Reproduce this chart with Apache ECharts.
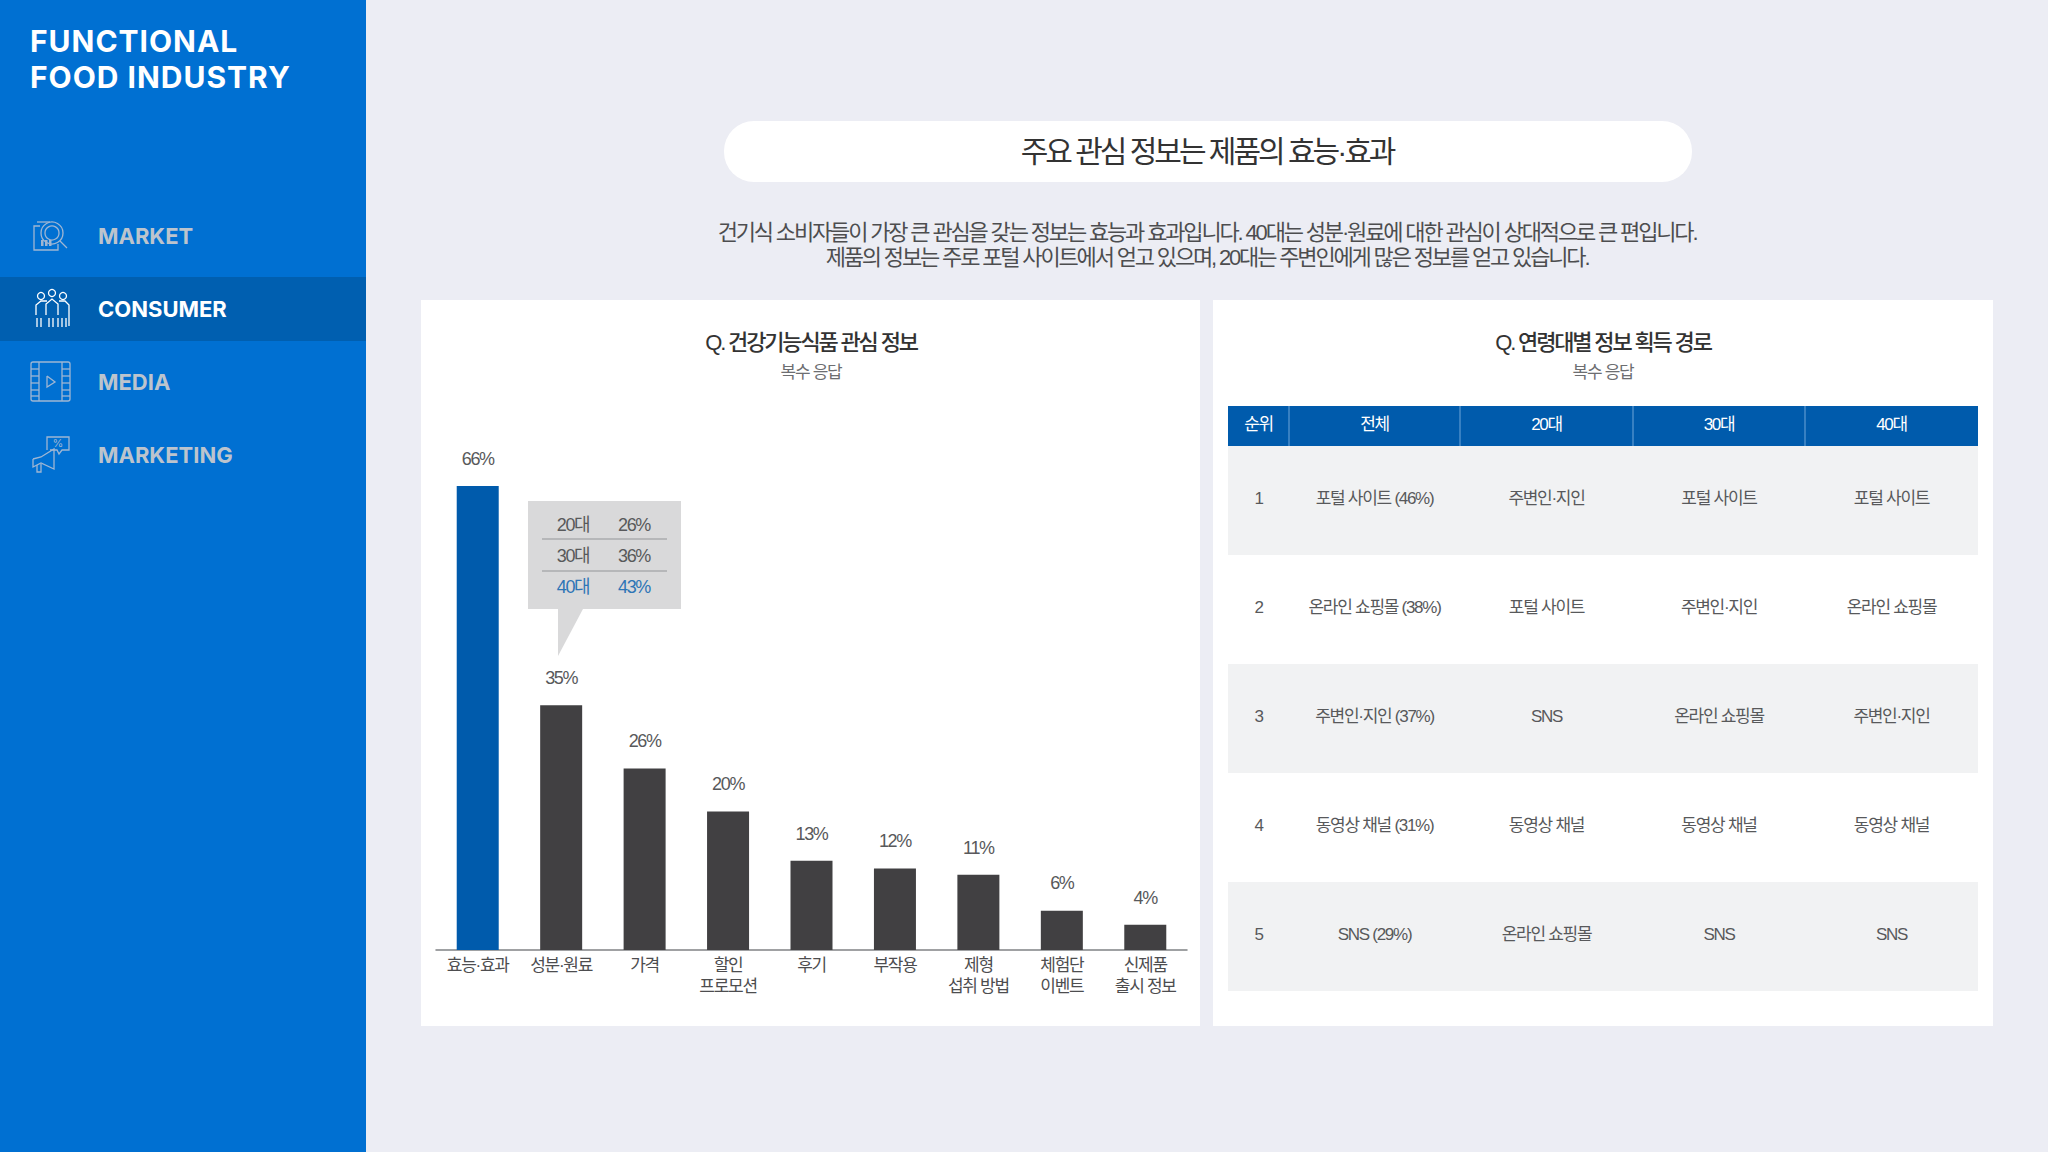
<!DOCTYPE html>
<html>
<head>
<meta charset="utf-8">
<title>FUNCTIONAL FOOD INDUSTRY</title>
<script src="https://cdn.jsdelivr.net/npm/echarts@6/dist/echarts.min.js"></script>
<style>
html,body{margin:0;padding:0;background:#ecedf4}
#main{width:2048px;height:1152px}
/* the korean text in the original is set very tight */
#main text[style*="CJK"]{letter-spacing:-.075em}
#main text[style*="22px"][style*="CJK"]{letter-spacing:-.098em}
#main text[style*="30px"][style*="CJK"]{letter-spacing:-.1em}
#main text[style*="30px Inter"]{letter-spacing:.033em}
</style>
</head>
<body>
<div id="main"></div>
<script>
const categories = ['효능·효과','성분·원료','가격','할인\n프로모션','후기','부작용','제형\n섭취 방법','체험단\n이벤트','신제품\n출시 정보'];
// bar heights as measured, the labels show them rounded
const shares = [66,34.8,25.8,19.7,12.7,11.6,10.7,5.6,3.6];
const calloutAges = ['20대','30대','40대'];
const calloutShares = ['26%','36%','43%'];
const tableHead = ['순위','전체','20대','30대','40대'];
const tableRows = [
  ['1','포털 사이트 (46%)','주변인·지인','포털 사이트','포털 사이트'],
  ['2','온라인 쇼핑몰 (38%)','포털 사이트','주변인·지인','온라인 쇼핑몰'],
  ['3','주변인·지인 (37%)','SNS','온라인 쇼핑몰','주변인·지인'],
  ['4','동영상 채널 (31%)','동영상 채널','동영상 채널','동영상 채널'],
  ['5','SNS (29%)','온라인 쇼핑몰','SNS','SNS']
];
const menu = ['MARKET','CONSUMER','MEDIA','MARKETING'];
const kr = '"Liberation Sans","Noto Sans CJK KR"';
const blue = '#005bac';
const colX = [1228,1289,1460,1633,1805,1978];

var g = [];
function rect(x,y,w,h,fill,r){
  g.push({type:'rect',shape:{x:x,y:y,width:w,height:h,r:r||0},style:{fill:fill}});
}
function line(x1,y1,x2,y2,col,w){
  g.push({type:'line',shape:{x1:x1,y1:y1,x2:x2,y2:y2},style:{stroke:col,lineWidth:w||1}});
}
function text(x,y,str,size,col,weight,family,align){
  g.push({type:'text',x:x,y:family?y:y+0.5,style:{text:str,font:(weight||400)+' '+size+'px '+(family||kr),
    fill:col,align:align||'center',verticalAlign:'middle'}});
}
function poly(pts,col){
  g.push({type:'polyline',shape:{points:pts},style:{stroke:col,fill:null,lineWidth:1.3}});
}
function circle(x,y,r,col){
  g.push({type:'circle',shape:{cx:x,cy:y,r:r},style:{stroke:col,fill:null,lineWidth:1.3}});
}

// sidebar
rect(0,0,366,1152,'#0070d2');
rect(0,277,366,64,'#005fb0');
text(30,41,'FUNCTIONAL',30,'#fff',700,'Inter','left');
text(30,77,'FOOD INDUSTRY',30,'#fff',700,'Inter','left');
menu.forEach(function(m,i){
  var on = i==1;
  text(98,236+i*73,m,22,on?'#fff':'#bcc4cd',700,'Inter','left');
});

// menu icons
var ic = '#9fb6d3';
poly([[40,226],[34,226],[34,250],[58,250],[58,244]],ic);
poly([[37,222],[50,222]],ic);
circle(52,233,11,ic);
circle(52,233,7,ic);
poly([[60,241],[67,248]],ic);
[41,45,49].forEach(function(x){ rect(x,240,2.5,6,ic); });
ic = '#ffffff';
circle(41,296,3.5,ic); circle(52,293,3.5,ic); circle(63,296,3.5,ic);
poly([[36,315],[36,305],[41,301],[47,301]],ic);
poly([[46,315],[46,304],[52,299],[58,304],[58,315]],ic);
poly([[59,301],[65,301],[69,305],[69,326]],ic);
[37,41,49,53,58,62,66].forEach(function(x){ poly([[x,318],[x,327]],ic); });
ic = '#9fb6d3';
g.push({type:'rect',shape:{x:31,y:362,width:39,height:39,r:2},style:{stroke:ic,fill:null,lineWidth:1.3}});
poly([[39,362],[39,401]],ic);
poly([[62,362],[62,401]],ic);
[369,376,383,390,396].forEach(function(y){ poly([[31,y],[39,y]],ic); poly([[62,y],[70,y]],ic); });
poly([[47,376],[55,382],[47,387],[47,376]],ic);
poly([[47,450],[47,437],[69,437],[69,450],[62,450],[59,454],[57,450],[50,450]],ic);
poly([[33,459],[33,467],[41,463],[54,469],[54,449],[41,457],[33,459]],ic);
poly([[37,465],[37,472],[41,472],[41,464]],ic);
text(58,443,'%',11,ic,400,'Inter');

// headline block
rect(724,121,968,61,'#fff',30);
text(1207,151,'주요 관심 정보는 제품의 효능·효과',30,'#333');
text(1207,232,'건기식 소비자들이 가장 큰 관심을 갖는 정보는 효능과 효과입니다. 40대는 성분·원료에 대한 관심이 상대적으로 큰 편입니다.',22,'#4d4d4f');
text(1207,257,'제품의 정보는 주로 포털 사이트에서 얻고 있으며, 20대는 주변인에게 많은 정보를 얻고 있습니다.',22,'#4d4d4f');

// cards
rect(421,300,779,726,'#fff');
rect(1213,300,780,726,'#fff');
text(811,342,'Q. 건강기능식품 관심 정보',22,'#333',500);
text(811,372,'복수 응답',17,'#6d6e71');
text(1603,342,'Q. 연령대별 정보 획득 경로',22,'#333',500);
text(1603,372,'복수 응답',17,'#6d6e71');

// callout
rect(528,501,153,108,'#d9d9da');
g.push({type:'polygon',shape:{points:[[558,609],[583,609],[558,656]]},style:{fill:'#d9d9da'}});
line(542,539,667,539,'#939598');
line(542,571,667,571,'#939598');
calloutAges.forEach(function(a,i){
  var col = i==2 ? '#2e75b6' : '#58595b';
  text(573,524+i*31,a,18,col);
  text(634,524+i*31,calloutShares[i],18,col);
});

// table
rect(colX[0],406,colX[5]-colX[0],40,blue);
tableHead.forEach(function(h,c){
  text((colX[c]+colX[c+1])/2,424,h,17,'#fff');
  if(c>0) line(colX[c],406,colX[c],446,'#6fa6d8');
});
tableRows.forEach(function(row,r){
  var top = 446+r*109;
  if(r%2==0) rect(colX[0],top,colX[5]-colX[0],109,'#f1f2f3');
  row.forEach(function(v,c){
    text((colX[c]+colX[c+1])/2,top+52,v,17,'#58595b');
  });
});

var chart = echarts.init(document.getElementById('main'),null,{renderer:'svg',width:2048,height:1152});
chart.setOption({
  backgroundColor:'#ecedf4',
  animation:false,
  graphic:{elements:g},
  grid:{left:436,right:861,top:486,bottom:202},
  xAxis:{
    type:'category',
    data:categories,
    axisTick:{show:false},
    axisLine:{lineStyle:{color:'#808285',width:1.5}},
    axisLabel:{interval:0,fontFamily:kr,fontSize:17,lineHeight:21,color:'#4d4d4f',margin:5,verticalAlign:'top'}
  },
  yAxis:{type:'value',min:0,max:66,show:false,splitLine:{show:false}},
  series:[{
    type:'bar',
    barWidth:42,
    data:shares.map(function(v,i){ return {value:v,itemStyle:{color:i==0?blue:'#414042'}}; }),
    label:{show:true,position:'top',distance:18.2,
      formatter:function(p){ return Math.round(p.value)+'%'; },
      fontFamily:kr,fontSize:18,color:'#58595b'}
  }]
});
</script>
</body>
</html>
